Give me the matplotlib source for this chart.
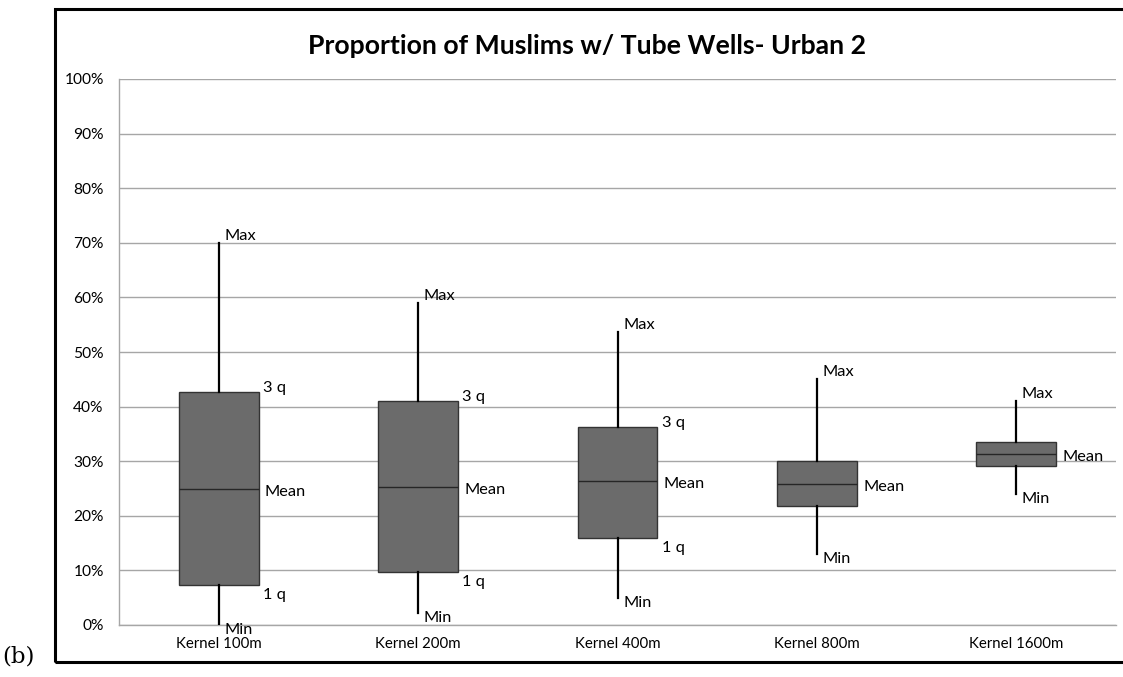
import matplotlib
matplotlib.use("Agg")
import matplotlib.pyplot as plt
from matplotlib.patches import Rectangle
from matplotlib.ticker import PercentFormatter

plt.rcParams["font.family"] = ["Lato", "DejaVu Sans"]

# Five-number summaries (percent) per kernel bandwidth
categories = ["Kernel 100m", "Kernel 200m", "Kernel 400m", "Kernel 800m", "Kernel 1600m"]
min_vals = [0.0, 2.2, 4.9, 13.0, 24.0]
q1_vals = [7.3, 9.7, 15.9, 21.8, 29.1]
mean_vals = [24.9, 25.3, 26.4, 25.8, 31.3]
q3_vals = [42.7, 41.0, 36.3, 30.0, 33.5]
max_vals = [70.0, 59.0, 53.7, 45.0, 41.0]
# boxes that get the quartile labels
quartile_labeled = [True, True, True, False, False]

title = "Proportion of Muslims w/ Tube Wells- Urban 2"

W, H = 1123, 677
fig = plt.figure(figsize=(W / 100, H / 100), dpi=100)
ax = fig.add_axes([119 / W, 1 - 625 / H, (1116 - 119) / W, (625 - 79) / H])

stats = []
for i, name in enumerate(categories):
    stats.append(dict(label=name, whislo=min_vals[i], q1=q1_vals[i], med=mean_vals[i],
                      q3=q3_vals[i], whishi=max_vals[i], fliers=[]))

pos = list(range(len(categories)))
ax.bxp(stats, positions=pos, widths=0.4, showcaps=False, showfliers=False,
       patch_artist=True,
       boxprops=dict(facecolor="#6b6b6b", edgecolor="#333333", linewidth=1.0),
       medianprops=dict(color="#262626", linewidth=1.0),
       whiskerprops=dict(color="black", linewidth=1.6),
       zorder=3)

ax.set_xlim(-0.5, len(categories) - 0.5)
ax.set_ylim(0, 100)
ax.set_yticks(range(0, 101, 10))
ax.yaxis.set_major_formatter(PercentFormatter(decimals=0))
ax.set_xticks(pos)
ax.set_xticklabels(categories, fontsize=10.8)
ax.tick_params(axis="both", length=0, colors="black")
ax.tick_params(axis="y", labelsize=11.2, pad=11)
ax.tick_params(axis="x", pad=9)
ax.grid(axis="y", color="#a6a6a6", linewidth=1.0, zorder=0)
ax.set_axisbelow(True)
for side in ("top", "right"):
    ax.spines[side].set_visible(False)
for side in ("left", "bottom"):
    ax.spines[side].set_color("#a6a6a6")
    ax.spines[side].set_linewidth(1.0)


def tag(text, x, y, dx, dy):
    ax.annotate(text, (x, y), xytext=(dx, dy), textcoords="offset points",
                fontsize=11.8, va="center", ha="left", zorder=4)


half = 0.2
for i in pos:
    tag("Max", i, max_vals[i], 4, 5)
    tag("Mean", i + half, mean_vals[i], 4.5, -2)
    tag("Min", i, min_vals[i], 4, -3.5)
    if quartile_labeled[i]:
        tag("3 q", i + half, q3_vals[i], 3, 3)
        tag("1 q", i + half, q1_vals[i], 3, -7)

fig.text(587 / W, 1 - 46 / H, title, ha="center", va="center",
         fontsize=19.2, fontweight="bold")

# black frame round the chart; right edge runs off the canvas
fig.patches.append(Rectangle((55 / W, 1 - 662 / H), 1.2, (662 - 9) / H,
                             transform=fig.transFigure, fill=False,
                             edgecolor="black", linewidth=2.2))
fig.text(2 / W, 1 - 656 / H, "(b)", family="DejaVu Serif", fontsize=16.5,
         ha="left", va="center")

fig.savefig("out.png", dpi=100)
